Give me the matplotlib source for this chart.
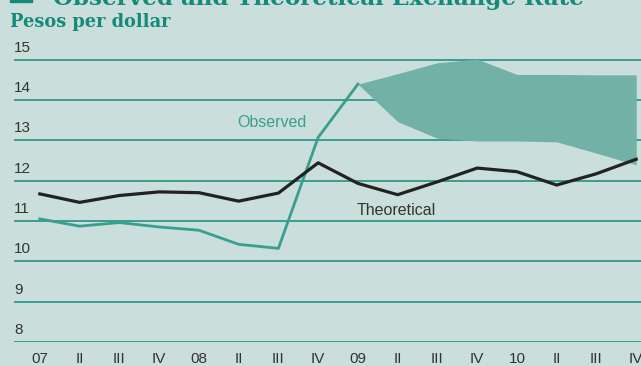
import numpy as np
import matplotlib.pyplot as plt

# Data (pesos per dollar, quarterly)
quarters = ["07", "II", "III", "IV", "08", "II", "III", "IV",
            "09", "II", "III", "IV", "10", "II", "III", "IV"]
theoretical = [11.67, 11.46, 11.63, 11.72, 11.70, 11.49, 11.69, 12.44,
               11.93, 11.65, 11.97, 12.31, 12.22, 11.89, 12.17, 12.53]
observed = [11.05, 10.87, 10.96, 10.85, 10.77, 10.42, 10.32, 13.07, 14.39]
# forecast band, from 09 onwards
band_upper = [14.39, 14.65, 14.92, 15.01, 14.63, 14.63, 14.62, 14.62]
band_lower = [14.39, 13.46, 13.05, 12.98, 12.98, 12.96, 12.68, 12.39]
y_ticks = [8, 9, 10, 11, 12, 13, 14, 15]

bg = "#cadfdb"
teal = "#3a9e8c"
dark_teal = "#168a78"
sans = "Liberation Sans"
serif = "DejaVu Serif"

fig = plt.figure(figsize=(6.41, 3.66), dpi=100, facecolor=bg)
ax = fig.add_axes([14 / 641, 0.0656, 1 - 14 / 641, 0.7828], facecolor=bg)

x = np.arange(len(quarters))
x_band = np.arange(8, 8 + len(band_upper))

for v in y_ticks:
    ax.axhline(v, color=teal, linewidth=1.4, zorder=1)
    ax.text(0.0, v + 0.12, str(v), transform=ax.get_yaxis_transform(),
            ha="left", va="bottom", fontsize=11, color="#333333", family=sans)

ax.fill_between(x_band, band_lower, band_upper, color="#72b1a5", linewidth=0, zorder=2)
ax.plot(x[:len(observed)], observed, color=teal, linewidth=2, zorder=3)
ax.plot(x, theoretical, color="#222222", linewidth=2.3, zorder=4)

ax.text(4.97, 13.43, "Observed", color=teal, fontsize=11.5, family=sans,
        ha="left", va="center")
ax.text(7.98, 11.25, "Theoretical", color="#333333", fontsize=11.5, family=sans,
        ha="left", va="center")

ax.set_xlim(-0.65, 15.12)
ax.set_ylim(8, 15.1)
ax.set_xticks(x)
ax.set_xticklabels(quarters, fontsize=11, color="#333333", family=sans)
ax.tick_params(axis="x", length=0, pad=7)
ax.set_yticks([])
for s in ax.spines.values():
    s.set_visible(False)

fig.text(10 / 641, 1 - 27 / 366, "Pesos per dollar", color=dark_teal, fontsize=12.8,
         fontweight="bold", family=serif, ha="left", va="baseline")
fig.text(53 / 641, 1 - 5 / 366, "Observed and Theoretical Exchange Rate", color=dark_teal,
         fontsize=16.6, fontweight="bold", family=serif, ha="left", va="baseline")
fig.patches.append(plt.Rectangle((10 / 641, 1 - 2 / 366), 22 / 641, 8 / 366,
                                 transform=fig.transFigure, color=dark_teal))

fig.savefig("out.png", dpi=100, facecolor=bg)
